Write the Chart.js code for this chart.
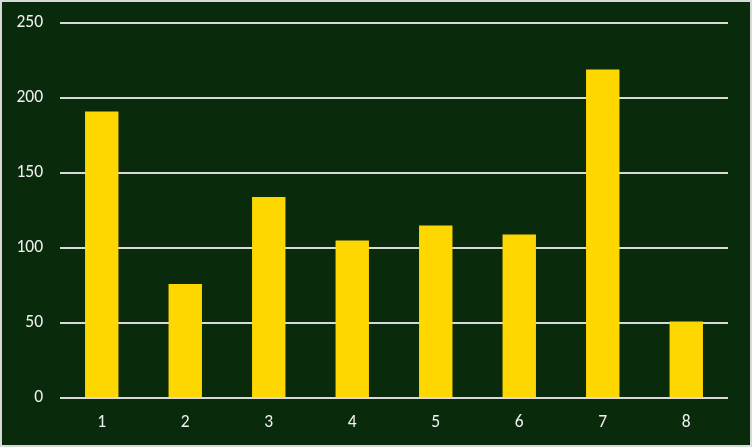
<!DOCTYPE html>
<html>
<head>
<meta charset="utf-8">
<script src="https://cdn.jsdelivr.net/npm/chart.js@4/dist/chart.umd.min.js"></script>
<style>
  html, body { margin: 0; padding: 0; background: #ffffff; }
  #wrap { width: 752px; height: 447px; box-sizing: border-box; border: 2px solid #d9d9d9; background: #0a2a0c; position: relative; }
  canvas { display: block; }
</style>
</head>
<body>
<div id="wrap"><canvas id="c" width="748" height="443"></canvas></div>
<script>
const categories = ["1", "2", "3", "4", "5", "6", "7", "8"];
const values = [191, 76, 134, 105, 115, 109, 219, 51];
const yTicks = [0, 50, 100, 150, 200, 250];

const fontFamily = "Carlito, Calibri, Lato, 'Liberation Sans', sans-serif";

new Chart(document.getElementById('c'), {
  type: 'bar',
  data: {
    labels: categories,
    datasets: [{
      data: values,
      backgroundColor: '#ffd700',
      borderWidth: 0,
      barPercentage: 0.4,
      categoryPercentage: 1.0
    }]
  },
  options: {
    responsive: false,
    animation: false,
    events: [],
    layout: { padding: { left: 0, right: 22, top: 21, bottom: 0 } },
    plugins: { legend: { display: false }, tooltip: { enabled: false } },
    scales: {
      x: {
        grid: { display: false },
        border: { display: false },
        ticks: { color: '#f0f0f0', font: { family: fontFamily, size: 17.5 }, padding: 6, maxRotation: 0 },
        afterFit: s => { s.height = 47; s.paddingLeft = 0; s.paddingRight = 0; }
      },
      y: {
        min: 0, max: 250,
        afterBuildTicks: s => { s.ticks = yTicks.map(v => ({ value: v })); },
        grid: { color: '#d9d9d9', lineWidth: 2, drawTicks: false },
        border: { display: false },
        ticks: { color: '#f0f0f0', font: { family: fontFamily, size: 17.5 }, padding: 17 },
        afterFit: s => { s.width = 58; s.paddingTop = 0; s.paddingBottom = 0; }
      }
    }
  }
});
</script>
</body>
</html>
